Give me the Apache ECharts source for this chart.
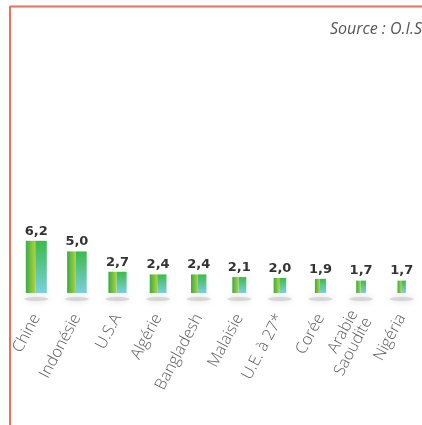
<!DOCTYPE html>
<html><head><meta charset="utf-8">
<script src="https://cdn.jsdelivr.net/npm/echarts@6/dist/echarts.min.js"></script>
<style>html,body{margin:0;padding:0;background:#fff}#c{width:422px;height:425px}</style>
</head><body><div id="c"></div>
<script>
var categories = ['Chine','Indonésie','U.S.A','Algérie','Bangladesh','Malaisie','U.E. à 27*','Corée','Arabie\nSaoudite','Nigéria'];
var values = [6.2, 5.0, 2.7, 2.4, 2.4, 2.1, 2.0, 1.9, 1.7, 1.7];
var sourceText = 'Source : O.I.S';

var chart = echarts.init(document.getElementById('c'), null, {renderer:'canvas'});
var Y_MIN = 0.3;
function fmt(v){ return v.toFixed(1).replace('.', ','); }

chart.setOption({
  animation:false,
  grid:{left:16, right:-1, top:233.7, bottom:132},
  xAxis:{type:'category', data:categories,
    axisLine:{show:false}, axisTick:{show:false},
    axisLabel:{rotate:62, margin:22, color:'#5a5a5a', fontSize:16, fontFamily:'Open Sans', fontWeight:300, lineHeight:16, interval:0, verticalAlign:'middle'}
  },
  yAxis:{type:'value', min:Y_MIN, max:7, show:false, splitLine:{show:false}},
  graphic:[
    {type:'line', shape:{x1:10, y1:6.5, x2:422, y2:6.5}, style:{stroke:'#e8735d', lineWidth:2}},
    {type:'line', shape:{x1:10, y1:6, x2:10, y2:425}, style:{stroke:'#e8735d', lineWidth:2}},
    {type:'text', right:0, top:21, style:{text:sourceText, font:'italic 16px "Open Sans"', fill:'#555'}}
  ],
  series:[{
    type:'custom',
    data:values.map(function(v,i){return [i,v];}),
    renderItem:function(params, api){
      var i = api.value(0), v = api.value(1);
      var top = api.coord([i, v]);
      var base = api.coord([i, Y_MIN]);
      var w = 21 - 1.4*i;
      var x0 = top[0] - w/2;
      var h = base[1] - top[1];
      var lw = w*0.45;
      return {type:'group', children:[
        {type:'ellipse', shape:{cx:top[0], cy:base[1]+6, rx:12, ry:2},
          style:{fill:'rgba(190,190,190,0.5)', shadowBlur:6, shadowColor:'rgba(150,150,150,0.7)'}},
        {type:'rect', shape:{x:x0, y:top[1], width:lw, height:h},
          style:{fill:new echarts.graphic.LinearGradient(0,0,1,0,[{offset:0,color:'#38ab4a'},{offset:1,color:'#b2d337'}])}},
        {type:'rect', shape:{x:x0+lw, y:top[1], width:w-lw, height:h},
          style:{fill:new echarts.graphic.LinearGradient(0,0,0,1,[{offset:0,color:'#3dba48'},{offset:1,color:'#7bcfe0'}])}},
        {type:'text', x:top[0], y:top[1]-3, style:{text:fmt(v), font:'bold 13px "DejaVu Sans"', fill:'#333', align:'center', verticalAlign:'bottom'}}
      ]};
    }
  }]
});
</script></body></html>
